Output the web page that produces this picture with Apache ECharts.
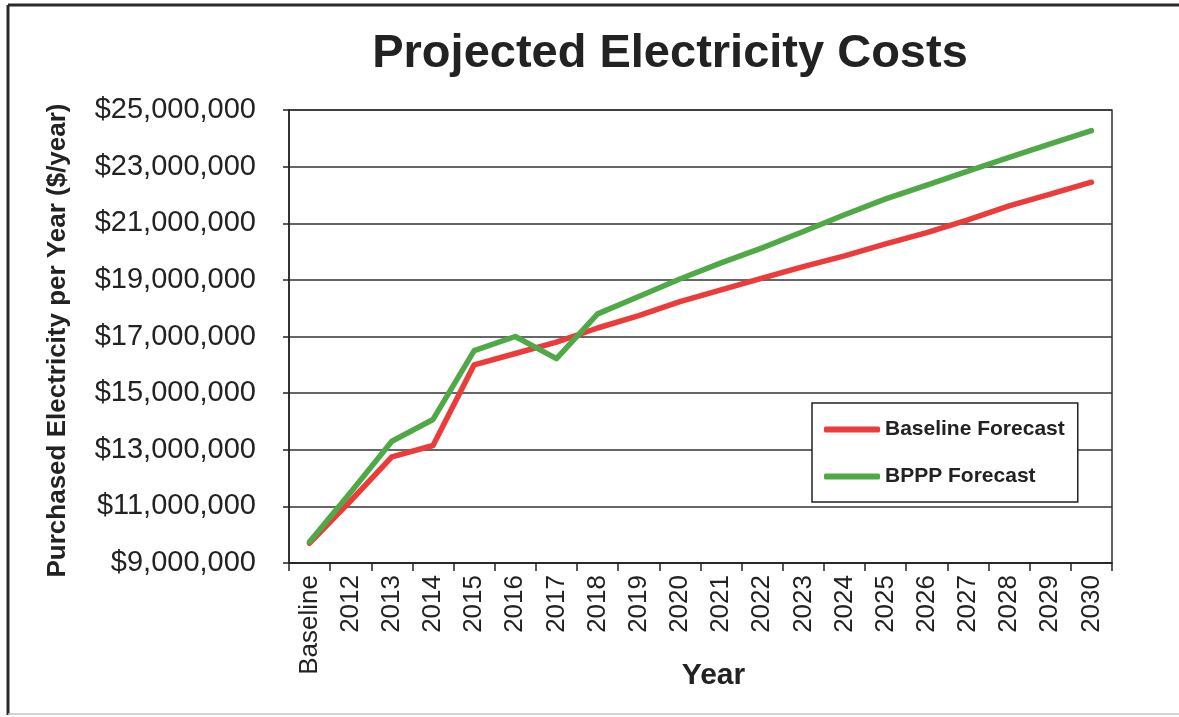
<!DOCTYPE html>
<html>
<head>
<meta charset="utf-8">
<script src="https://cdn.jsdelivr.net/npm/echarts@6/dist/echarts.min.js"></script>
<style>
  html, body { margin: 0; padding: 0; background: #ffffff; }
  #chart { width: 1179px; height: 717px; }
</style>
</head>
<body>
<div id="chart"></div>
<script>
// Category labels along the x axis
const categories = ['Baseline', '2012', '2013', '2014', '2015', '2016', '2017', '2018', '2019', '2020',
  '2021', '2022', '2023', '2024', '2025', '2026', '2027', '2028', '2029', '2030'];

// Purchased electricity per year ($/year)
const baselineForecast = [9700000, 11200000, 12750000, 13150000, 16000000, 16400000, 16800000, 17300000,
  17740000, 18230000, 18650000, 19060000, 19470000, 19850000, 20270000, 20670000, 21120000,
  21610000, 22030000, 22450000];
const bpppForecast = [9750000, 11500000, 13300000, 14070000, 16500000, 17000000, 16220000, 17800000,
  18410000, 19030000, 19600000, 20130000, 20710000, 21300000, 21860000, 22350000, 22840000,
  23330000, 23800000, 24270000];

// Y axis range and step
const yMin = 9000000;
const yMax = 25000000;
const yStep = 2000000;

const FONT = 'Liberation Sans, Arial, sans-serif';

const chart = echarts.init(document.getElementById('chart'));

chart.setOption({
  backgroundColor: '#ffffff',
  animation: false,
  graphic: [
    // outer frame
    { type: 'line', shape: { x1: 8, y1: 5, x2: 1179, y2: 5 }, style: { stroke: '#2a2a2a', lineWidth: 3 } },
    { type: 'line', shape: { x1: 8, y1: 5, x2: 8, y2: 715 }, style: { stroke: '#2a2a2a', lineWidth: 3 } },
    { type: 'line', shape: { x1: 8, y1: 714, x2: 1179, y2: 714 }, style: { stroke: '#c4c4c4', lineWidth: 1.5 } },
    {
      type: 'text', x: 670, y: 54,
      style: {
        text: 'Projected Electricity Costs', textAlign: 'center', textVerticalAlign: 'middle',
        font: 'bold 47px ' + FONT, fill: '#222222'
      }
    }
  ],
  legend: {
    orient: 'vertical',
    left: 812,
    top: 403,
    padding: [16, 13, 15, 12],
    itemGap: 26,
    itemWidth: 56,
    itemHeight: 6,
    icon: 'roundRect',
    backgroundColor: '#ffffff',
    borderColor: '#222222',
    borderWidth: 1.5,
    textStyle: { fontFamily: FONT, fontWeight: 'bold', fontSize: 21, color: '#222222' },
    data: ['Baseline Forecast', 'BPPP Forecast']
  },
  grid: {
    left: 289,
    right: 67,
    top: 110,
    bottom: 154,
    show: true,
    borderColor: '#333333',
    borderWidth: 1.5,
    backgroundColor: 'transparent'
  },
  xAxis: {
    type: 'category',
    data: categories,
    boundaryGap: true,
    name: 'Year',
    nameLocation: 'middle',
    nameGap: 98,
    nameMoveOverlap: false,
    nameTextStyle: { fontFamily: FONT, fontWeight: 'bold', fontSize: 30, color: '#222222', padding: [0, 0, 0, 26] },
    axisLine: { lineStyle: { color: '#222222', width: 1.5 } },
    axisTick: { show: true, length: 8, lineStyle: { color: '#222222', width: 1.5 } },
    axisLabel: {
      rotate: 90, margin: 12, interval: 0,
      fontFamily: FONT, fontSize: 26, color: '#222222'
    },
    splitLine: { show: false }
  },
  yAxis: {
    type: 'value',
    min: yMin,
    max: yMax,
    interval: yStep,
    name: 'Purchased Electricity per Year ($/year)',
    nameLocation: 'middle',
    nameGap: 218,
    nameTextStyle: { fontFamily: FONT, fontWeight: 'bold', fontSize: 26, color: '#222222', padding: [0, 8, 0, 0] },
    axisLine: { show: true, lineStyle: { color: '#222222', width: 1.5 } },
    axisTick: { show: true, length: 6, lineStyle: { color: '#222222', width: 1.5 } },
    axisLabel: {
      margin: 33,
      fontFamily: FONT, fontSize: 29, color: '#222222',
      formatter: v => '$' + v.toLocaleString('en-US')
    },
    splitLine: { show: true, lineStyle: { color: '#333333', width: 1.5 } }
  },
  series: [
    {
      name: 'Baseline Forecast',
      type: 'line',
      data: baselineForecast,
      symbol: 'none',
      lineStyle: { color: '#ec3b3b', width: 5.5, cap: 'round', join: 'round' },
      itemStyle: { color: '#ec3b3b' }
    },
    {
      name: 'BPPP Forecast',
      type: 'line',
      data: bpppForecast,
      symbol: 'none',
      lineStyle: { color: '#4fa947', width: 5.5, cap: 'round', join: 'round' },
      itemStyle: { color: '#4fa947' }
    }
  ]
});
</script>
</body>
</html>
